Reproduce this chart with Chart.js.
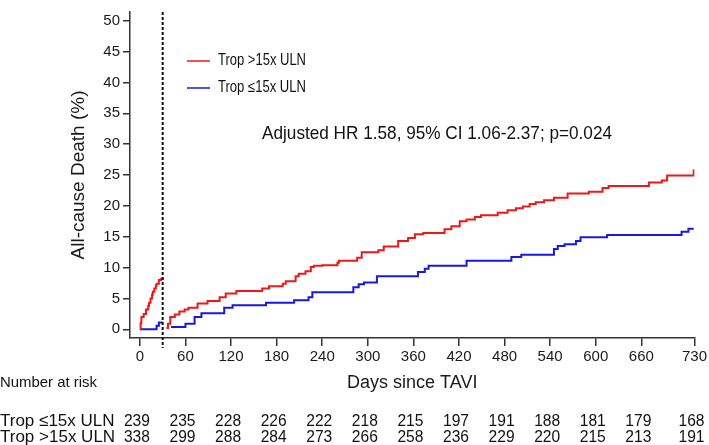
<!DOCTYPE html>
<html>
<head>
<meta charset="utf-8">
<script src="https://cdn.jsdelivr.net/npm/chart.js@4.4.0/dist/chart.umd.min.js"></script>
<style>
  html, body { margin: 0; padding: 0; background: #fff; }
</style>
</head>
<body>
<canvas id="chart" width="709" height="445"></canvas>
<script>
'use strict';

// axis ticks
const dayTicks = [0, 60, 120, 180, 240, 300, 360, 420, 480, 540, 600, 660, 730];
const pctTicks = [0, 5, 10, 15, 20, 25, 30, 35, 40, 45, 50];
const landmarkDay = 30;

// Trop >15x ULN (red), before and after the 30-day landmark
const redEarlyDays = [0, 1, 2, 5, 8, 11, 12, 14, 16, 17, 19, 21, 22, 25, 28, 30];
const redEarlyPct  = [0, 1.0, 2.0, 2.5, 3.2, 3.8, 4.3, 5.0, 5.6, 6.1, 6.6, 7.1, 7.4, 8.0, 8.2, 8.3];
const redLateDays = [35, 37, 40, 46, 52, 59, 64, 76, 89, 105, 113, 127, 161, 170, 188, 192, 205, 209, 218, 225,
                     229, 240, 260, 262, 286, 292, 314, 321, 340, 353, 362, 373, 401, 410, 421, 430, 441, 449,
                     471, 484, 495, 504, 513, 521, 532, 545, 563, 591, 609, 617, 670, 687, 694, 729];
const redLatePct  = [0.2, 0.9, 2.0, 2.4, 2.9, 3.2, 3.5, 4.2, 4.6, 5.2, 5.8, 6.2, 6.6, 7.0, 7.4, 7.8, 8.6, 9.0, 9.4, 10.1,
                     10.3, 10.4, 10.8, 11.1, 11.6, 12.5, 12.8, 13.4, 14.3, 14.8, 15.4, 15.6, 16.2, 16.7, 17.5, 17.8, 18.2, 18.5,
                     18.9, 19.3, 19.6, 19.9, 20.3, 20.6, 20.9, 21.3, 22.0, 22.3, 22.9, 23.2, 23.8, 24.1, 24.9, 25.9];

// Trop <=15x ULN (blue)
const blueEarlyDays = [0, 22, 25, 30];
const blueEarlyPct  = [0, 0.6, 1.1, 1.1];
const blueLateDays = [41, 60, 72, 81, 111, 122, 166, 203, 222, 227, 281, 288, 295, 312, 366, 375, 380, 430,
                      489, 502, 545, 550, 559, 574, 580, 615, 713, 722, 729];
const blueLatePct  = [0.4, 0.9, 2.0, 2.6, 3.5, 3.9, 4.3, 4.7, 5.2, 6.0, 6.8, 7.3, 7.6, 8.6, 9.3, 9.8, 10.3, 11.1,
                      11.7, 12.1, 13.0, 13.5, 13.8, 14.3, 14.9, 15.3, 15.8, 16.3, 16.3];

// number at risk table
const riskLow  = [239, 235, 228, 226, 222, 218, 215, 197, 191, 188, 181, 179, 168];
const riskHigh = [338, 299, 288, 284, 273, 266, 258, 236, 229, 220, 215, 213, 191];

const labelHigh = 'Trop >15x ULN';
const labelLow = 'Trop \u226415x ULN';
const hrText = 'Adjusted HR 1.58, 95% CI 1.06-2.37; p=0.024';

const RED = 'rgb(238, 24, 24)';
const BLUE = 'rgb(24, 24, 225)';
const FONT = '"Liberation Sans", Arial, sans-serif';

function toPoints(days, pct) {
    return days.map((d, i) => ({ x: d, y: pct[i] }));
}

function curve(days, pct, color) {
    return {
        data: toPoints(days, pct),
        borderColor: color,
        borderWidth: 2,
        pointRadius: 0,
        stepped: true,
        fill: false
    };
}

// draw text squeezed to a given width (the source figure uses a narrow face)
function narrowText(ctx, text, x, y, width) {
    const w = ctx.measureText(text).width;
    const sx = Math.min(1, width / w);
    ctx.save();
    ctx.translate(x, y);
    ctx.scale(sx, 1);
    ctx.fillText(text, 0, 0);
    ctx.restore();
}

const extras = {
    id: 'extras',
    afterDatasetsDraw(chart) {
        const ctx = chart.ctx;
        const xs = chart.scales.x;
        const area = chart.chartArea;

        // landmark line
        const lx = xs.getPixelForValue(landmarkDay);
        ctx.save();
        ctx.strokeStyle = '#111';
        ctx.lineWidth = 2;
        ctx.setLineDash([3, 2]);
        ctx.beginPath();
        ctx.moveTo(lx, area.top);
        ctx.lineTo(lx, area.bottom + 10);
        ctx.stroke();
        ctx.setLineDash([]);

        // legend
        ctx.lineWidth = 1.5;
        ctx.strokeStyle = RED;
        ctx.beginPath(); ctx.moveTo(187, 61); ctx.lineTo(210, 61); ctx.stroke();
        ctx.strokeStyle = BLUE;
        ctx.beginPath(); ctx.moveTo(187, 88); ctx.lineTo(210, 88); ctx.stroke();
        ctx.fillStyle = '#111';
        ctx.textBaseline = 'middle';
        ctx.textAlign = 'left';
        ctx.font = '16px ' + FONT;
        narrowText(ctx, labelHigh, 218, 61, 88);
        narrowText(ctx, labelLow, 218, 88, 88);

        // hazard ratio note
        ctx.font = '19px ' + FONT;
        narrowText(ctx, hrText, 262, 134, 350);

        // number at risk
        ctx.font = '15px ' + FONT;
        narrowText(ctx, 'Number at risk', 0, 383, 97);
        ctx.font = '17px ' + FONT;
        narrowText(ctx, labelLow, 0, 421, 118);
        narrowText(ctx, labelHigh, 0, 437, 118);
        ctx.textAlign = 'center';
        dayTicks.forEach((d, i) => {
            const px = xs.getPixelForValue(d) - 3;
            narrowText(ctx, String(riskLow[i]), px, 421, 26);
            narrowText(ctx, String(riskHigh[i]), px, 437, 26);
        });
        ctx.restore();
    }
};

Chart.defaults.font.family = FONT;
Chart.defaults.color = '#1a1a1a';

new Chart(document.getElementById('chart'), {
    type: 'line',
    data: {
        datasets: [
            curve(redEarlyDays, redEarlyPct, RED),
            curve(redLateDays, redLatePct, RED),
            curve(blueEarlyDays, blueEarlyPct, BLUE),
            curve(blueLateDays, blueLatePct, BLUE)
        ]
    },
    options: {
        responsive: false,
        animation: false,
        layout: { padding: { left: 0, right: 11, top: 0, bottom: 47 } },
        plugins: {
            legend: { display: false },
            tooltip: { enabled: false }
        },
        scales: {
            x: {
                type: 'linear',
                min: -13,
                max: 730,
                afterBuildTicks: (scale) => { scale.ticks = dayTicks.map(v => ({ value: v })); },
                afterFit: (scale) => { scale.height = 60; },
                ticks: { font: { size: 15 }, padding: 2, maxRotation: 0, autoSkip: false },
                grid: { drawOnChartArea: false, drawTicks: true, tickLength: 8, color: '#333', lineWidth: 1.5 },
                border: { display: true, color: '#333', width: 1.5 },
                title: {
                    display: true,
                    text: 'Days since TAVI',
                    font: { size: 18 },
                    padding: { top: 0, bottom: 4 }
                }
            },
            y: {
                type: 'linear',
                min: -1.4,
                max: 51.4,
                afterBuildTicks: (scale) => { scale.ticks = pctTicks.map(v => ({ value: v })); },
                afterFit: (scale) => { scale.width = 130; },
                ticks: { font: { size: 15 }, padding: 3 },
                grid: { drawOnChartArea: false, drawTicks: true, tickLength: 7, color: '#333', lineWidth: 1.5 },
                border: { display: true, color: '#333', width: 1.5 },
                title: {
                    display: true,
                    text: 'All-cause Death (%)',
                    font: { size: 19 },
                    padding: { top: 67, bottom: 0 }
                }
            }
        }
    },
    plugins: [extras]
});
</script>
</body>
</html>
